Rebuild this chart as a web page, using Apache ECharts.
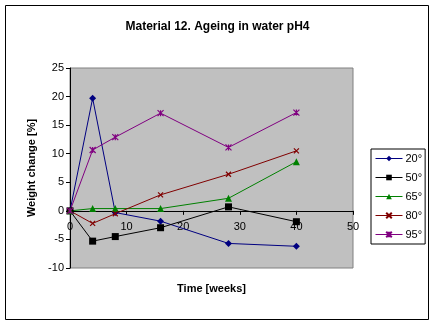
<!DOCTYPE html>
<html><head><meta charset="utf-8">
<script src="https://cdn.jsdelivr.net/npm/echarts@6/dist/echarts.min.js"></script>
<style>html,body{margin:0;padding:0;background:#fff}#c{width:435px;height:325px}</style>
</head><body><div id="c"></div>
<script>
const weeks = [0, 4, 8, 16, 28, 40];
const s20 = [0, 19.7, -0.3, -1.8, -5.7, -6.2];
const s50 = [0, -5.3, -4.5, -2.95, 0.7, -1.9];
const s65 = [0, 0.4, 0.4, 0.4, 2.2, 8.6];
const s80 = [0, -2.2, -0.5, 2.8, 6.4, 10.5];
const s95 = [0, 10.65, 12.9, 17.1, 11.1, 17.2];
const seriesNames = ['20°', '50°', '65°', '80°', '95°'];
const xTicks = [0, 10, 20, 30, 40, 50];
const yTicks = [-10, -5, 0, 5, 10, 15, 20, 25];

const values = [s20, s50, s65, s80, s95];
const colors = ['#000080', '#000000', '#008000', '#800000', '#800080'];
const symbols = ['diamond', 'rect', 'triangle',
  'path://M0,0L10,10M10,0L0,10',
  'path://M0,0L10,10M10,0L0,10M5,0L5,10'];
const sizes = [7, 7, 7, 5, 6];
const stroked = [false, false, false, true, true];

const gridTop = 68, gridH = 200;
const yMin = yTicks[0], yMax = yTicks[yTicks.length - 1];
// distance of value 0 above the grid bottom
const zeroOffset = gridH * (0 - yMin) / (yMax - yMin);

const chart = echarts.init(document.getElementById('c'), null, {renderer: 'canvas'});
const font = 'Liberation Sans, Arial, sans-serif';
chart.setOption({
  backgroundColor: '#ffffff',
  animation: false,
  textStyle: {fontFamily: font},
  title: {text: 'Material 12. Ageing in water pH4', left: 'center', top: 16,
    textStyle: {fontFamily: font, fontSize: 12, fontWeight: 'bold', color: '#000'}},
  graphic: [{type: 'rect', shape: {x: 5.5, y: 5.5, width: 423, height: 314},
    style: {fill: 'none', stroke: '#000', lineWidth: 1}, z: 100}],
  legend: {
    orient: 'vertical', left: 371, top: 149,
    padding: [3, 3, 3, 4], itemWidth: 27, itemHeight: 7, itemGap: 6,
    borderColor: '#000', borderWidth: 1, backgroundColor: '#fff', borderRadius: 0,
    lineStyle: {width: 1},
    textStyle: {fontFamily: font, fontSize: 11, color: '#000', lineHeight: 13, padding: [0, 0, 0, -2]},
    data: seriesNames
  },
  grid: {left: 70, top: gridTop, width: 283, height: gridH, show: true,
    outerBoundsMode: 'none', containLabel: false,
    backgroundColor: '#c0c0c0', borderColor: '#808080', borderWidth: 1},
  xAxis: {
    type: 'value', min: xTicks[0], max: xTicks[xTicks.length - 1], interval: 10,
    offset: -zeroOffset,
    name: 'Time [weeks]', nameLocation: 'middle', nameGap: 73,
    nameTextStyle: {fontFamily: font, fontSize: 11, fontWeight: 'bold', color: '#000'},
    axisLine: {show: true, onZero: false, lineStyle: {color: '#000', width: 1}},
    axisTick: {show: true, inside: false, length: 4, lineStyle: {color: '#000'}},
    axisLabel: {fontFamily: font, fontSize: 11, color: '#000', margin: 11},
    splitLine: {show: false}
  },
  yAxis: {
    type: 'value', min: yMin, max: yMax, interval: 5,
    name: 'Weight change [%]', nameLocation: 'middle', nameGap: 33, nameRotate: 90,
    nameTextStyle: {fontFamily: font, fontSize: 11, fontWeight: 'bold', color: '#000'},
    axisLine: {show: true, onZero: false, lineStyle: {color: '#000', width: 1}},
    axisTick: {show: true, inside: false, length: 4, lineStyle: {color: '#000'}},
    axisLabel: {fontFamily: font, fontSize: 11, color: '#000', margin: 6},
    splitLine: {show: false}
  },
  series: values.map((v, i) => ({
    name: seriesNames[i], type: 'line',
    data: weeks.map((w, j) => [w, v[j]]),
    symbol: symbols[i], symbolSize: sizes[i], showSymbol: true,
    lineStyle: {color: colors[i], width: 1},
    itemStyle: stroked[i]
      ? {color: 'none', borderColor: colors[i], borderWidth: 1.2}
      : {color: colors[i], borderColor: colors[i], borderWidth: 0},
    emphasis: {disabled: true}
  }))
});
</script></body></html>
